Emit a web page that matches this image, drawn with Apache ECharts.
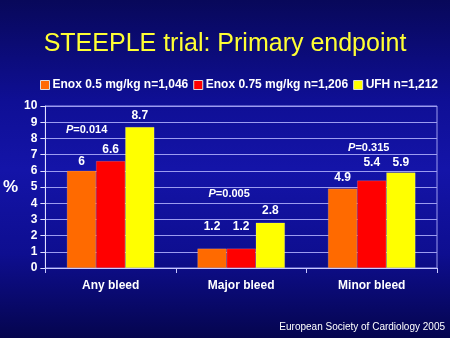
<!DOCTYPE html>
<html>
<head>
<meta charset="utf-8">
<script src="https://cdn.jsdelivr.net/npm/echarts@6/dist/echarts.min.js"></script>
<style>
html,body{margin:0;padding:0;}
#c{width:450px;height:338px;background:linear-gradient(to bottom,#08085a 0%,#0f0f95 30%,#1414a8 50%,#0e0e90 75%,#05054e 100%);}
</style>
</head>
<body>
<div id="c"></div>
<script>
var categories = ['Any bleed', 'Major bleed', 'Minor bleed'];
var seriesNames = ['Enox 0.5 mg/kg n=1,046', 'Enox 0.75 mg/kg n=1,206', 'UFH n=1,212'];
var enox05 = [6, 1.2, 4.9];
var enox075 = [6.6, 1.2, 5.4];
var ufh = [8.7, 2.8, 5.9];
var pValues = ['0.014', '0.005', '0.315'];
var pLevels = [8.5, 4.6, 7.4];
var yTicks = [0, 1, 2, 3, 4, 5, 6, 7, 8, 9, 10];

var font = 'Liberation Sans, Arial, sans-serif';
var colors = ['#ff6a00', '#ff0000', '#ffff00'];
var pOffsets = [[-24, 0], [-12, 0], [-3, 0]];
// value-label distances above bar tops, per series / category
var labelDist = [[3, 16, 5], [5, 16, 12], [5, 6, 4]];

var chart = echarts.init(document.getElementById('c'), null, {renderer: 'canvas'});

function barSeries(si, name, data, color) {
  return {
    name: name,
    type: 'bar',
    data: data.map(function (v, i) {
      return {value: v, label: {distance: labelDist[si][i]}};
    }),
    barGap: '0%',
    barCategoryGap: '33%',
    itemStyle: {color: color, borderColor: 'rgba(255,255,255,0.35)', borderWidth: 0.5},
    label: {
      show: true, position: 'top', distance: 5,
      color: '#ffffff', fontWeight: 'bold', fontSize: 12, fontFamily: font
    }
  };
}

chart.setOption({
  backgroundColor: 'transparent',
  animation: false,
  title: [{
    text: 'STEEPLE trial: Primary endpoint',
    left: 'center', top: 27,
    textStyle: {color: '#ffff33', fontSize: 25, fontWeight: 'normal', fontFamily: font}
  }, {
    text: 'European Society of Cardiology 2005',
    right: 0, top: 317,
    textStyle: {color: '#ffffff', fontSize: 10, fontWeight: 'normal', fontFamily: font}
  }],
  legend: {
    data: seriesNames,
    left: 35, top: 74,
    itemWidth: 9, itemHeight: 9, itemGap: 5,
    icon: 'rect',
    itemStyle: {borderColor: '#dddddd', borderWidth: 1},
    textStyle: {color: '#ffffff', fontWeight: 'bold', fontSize: 12, fontFamily: font, padding: [0, 0, 0, -2]}
  },
  grid: {
    left: 42, right: 13, top: 106, bottom: 70,
    show: true, borderColor: '#9c9cf0', borderWidth: 1, backgroundColor: 'transparent'
  },
  xAxis: {
    type: 'category',
    data: categories,
    axisLine: {lineStyle: {color: '#c8c8ff', width: 1}},
    axisTick: {show: true, length: 5, lineStyle: {color: '#c8c8ff'}},
    axisLabel: {color: '#ffffff', fontWeight: 'bold', fontSize: 12, fontFamily: font, margin: 12}
  },
  yAxis: {
    type: 'value',
    min: yTicks[0], max: yTicks[yTicks.length - 1], interval: 1,
    name: '%', nameLocation: 'middle', nameRotate: 0, nameGap: 24,
    nameTextStyle: {color: '#ffffff', fontWeight: 'bold', fontSize: 17, fontFamily: font},
    axisLine: {show: true, lineStyle: {color: '#e0e0ff', width: 1}},
    axisTick: {show: true, length: 5, lineStyle: {color: '#e0e0ff'}},
    axisLabel: {color: '#ffffff', fontWeight: 'bold', fontSize: 12, fontFamily: font, margin: 8},
    splitLine: {show: true, lineStyle: {color: '#9c9cf0', width: 1}}
  },
  series: [
    barSeries(0, seriesNames[0], enox05, colors[0]),
    barSeries(1, seriesNames[1], enox075, colors[1]),
    barSeries(2, seriesNames[2], ufh, colors[2]),
    {
      type: 'scatter',
      symbolSize: 0,
      silent: true,
      itemStyle: {opacity: 1},
      data: pLevels.map(function (v, i) {
        return {
          value: [categories[i], v],
          label: {offset: pOffsets[i]}
        };
      }),
      label: {
        show: true, position: 'inside',
        color: '#ffffff', opacity: 1, textBorderWidth: 0,
        formatter: function (p) { return '{i|P}{n|=' + pValues[p.dataIndex] + '}'; },
        rich: {
          i: {color: '#ffffff', fontWeight: 'bold', fontStyle: 'italic', fontSize: 11, fontFamily: font},
          n: {color: '#ffffff', fontWeight: 'bold', fontSize: 11, fontFamily: font}
        }
      }
    }
  ]
});
</script>
</body>
</html>
